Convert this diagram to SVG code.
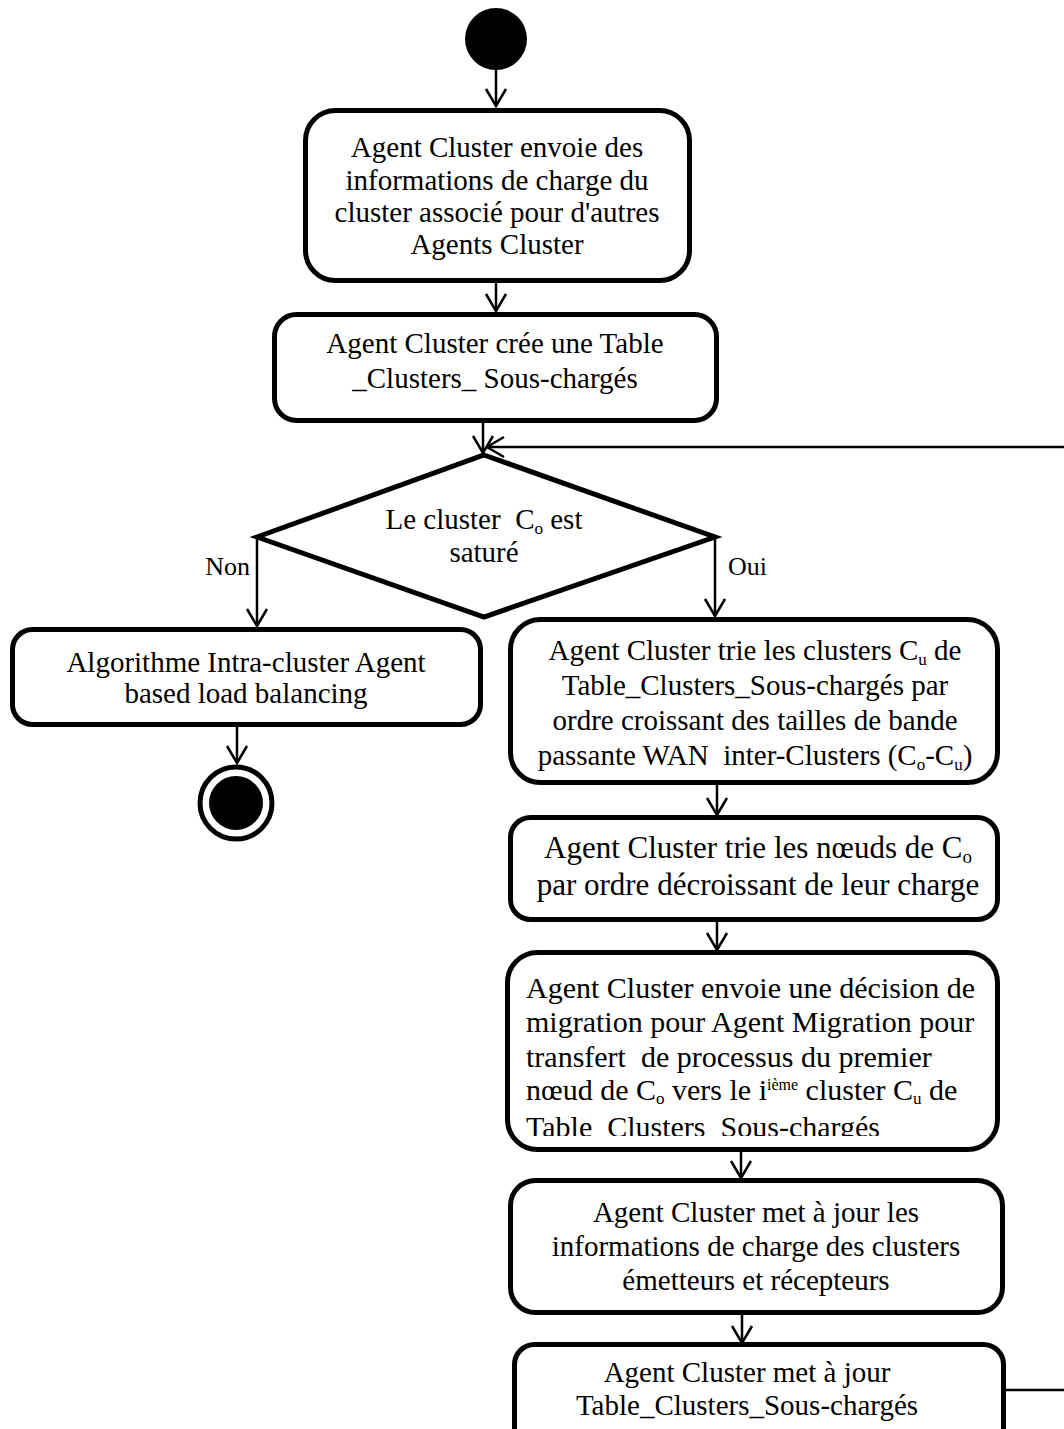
<svg xmlns="http://www.w3.org/2000/svg" width="1064" height="1429" viewBox="0 0 1064 1429">
<style>
  .box { fill: #fff; stroke: #000; stroke-width: 5; }
  .t { font-family: "Liberation Serif", "Times New Roman", serif; font-size: 29px; fill: #000; text-anchor: middle; white-space: pre; }
  .tl { text-anchor: start; }
  .big { font-size: 31px; }
  .mid { font-size: 30px; }
  .lbl { font-family: "Liberation Serif", "Times New Roman", serif; font-size: 26px; fill: #000; }
  .conn { fill: none; stroke: #000; stroke-width: 2.5; }
</style>
<defs>
  <marker id="arr" viewBox="0 0 20 24" refX="18" refY="12" markerWidth="20" markerHeight="24" markerUnits="userSpaceOnUse" orient="auto">
    <path d="M1,2 L18,12 L1,22" fill="none" stroke="#000" stroke-width="2.5"/>
  </marker>
  <clipPath id="clip5"><rect x="480" y="940" width="560" height="196"/></clipPath>
</defs>

<g id="connectors">
  <line class="conn" x1="496" y1="70" x2="496" y2="106" marker-end="url(#arr)"/>
  <line class="conn" x1="496" y1="283" x2="496" y2="311" marker-end="url(#arr)"/>
  <line class="conn" x1="483" y1="423" x2="483" y2="453" marker-end="url(#arr)"/>
  <line class="conn" x1="1064" y1="447" x2="487" y2="447" stroke-width="3" marker-end="url(#arr)"/>
  <line class="conn" x1="257" y1="538" x2="257" y2="626" marker-end="url(#arr)"/>
  <line class="conn" x1="715" y1="538" x2="715" y2="616" marker-end="url(#arr)"/>
  <line class="conn" x1="237" y1="727" x2="237" y2="763" marker-end="url(#arr)"/>
  <line class="conn" x1="717" y1="785" x2="717" y2="815" marker-end="url(#arr)"/>
  <line class="conn" x1="717" y1="922" x2="717" y2="950" marker-end="url(#arr)"/>
  <line class="conn" x1="741" y1="1152" x2="741" y2="1178" marker-end="url(#arr)"/>
  <line class="conn" x1="742" y1="1315" x2="742" y2="1343" marker-end="url(#arr)"/>
  <line class="conn" x1="1006" y1="1390" x2="1064" y2="1390"/>
  <text class="lbl" x="250" y="575" text-anchor="end">Non</text>
  <text class="lbl" x="728" y="575">Oui</text>
</g>

<g id="start">
  <circle cx="496" cy="39" r="31" fill="#000"/>
</g>

<g id="n1">
  <rect class="box" x="305.5" y="110.5" width="384" height="170" rx="30"/>
  <text class="t" x="497" y="157">Agent Cluster envoie des</text>
  <text class="t" x="497" y="190">informations de charge du</text>
  <text class="t" x="497" y="222">cluster associé pour d'autres</text>
  <text class="t" x="497" y="254">Agents Cluster</text>
</g>

<g id="n2">
  <rect class="box" x="274.5" y="314.5" width="442" height="106" rx="22"/>
  <text class="t" x="495" y="353">Agent Cluster crée une Table</text>
  <text class="t" x="495" y="388">_Clusters_ Sous-chargés</text>
</g>

<g id="decision">
  <polygon points="484,455 715,537 484,617 257,537" fill="#fff" stroke="#000" stroke-width="5" stroke-linejoin="miter"/>
  <text class="t" x="484" y="529" font-size="28">Le cluster  C<tspan font-size="17" dy="5">o</tspan><tspan dy="-5"> est</tspan></text>
  <text class="t" x="484" y="562" font-size="28">saturé</text>
</g>

<g id="intra">
  <rect class="box" x="12.5" y="629.5" width="468" height="95" rx="20"/>
  <text class="t" x="246" y="672">Algorithme Intra-cluster Agent</text>
  <text class="t" x="246" y="703">based load balancing</text>
</g>

<g id="end">
  <circle cx="236" cy="803" r="36" fill="#fff" stroke="#000" stroke-width="5"/>
  <circle cx="236" cy="803" r="27" fill="#000"/>
</g>

<g id="n3">
  <rect class="box" x="510.5" y="619.5" width="487" height="163" rx="30"/>
  <text class="t" x="755" y="660">Agent Cluster trie les clusters C<tspan font-size="17" dy="5">u</tspan><tspan dy="-5"> de</tspan></text>
  <text class="t" x="755" y="695">Table_Clusters_Sous-chargés par</text>
  <text class="t" x="755" y="730">ordre croissant des tailles de bande</text>
  <text class="t" x="755" y="765">passante WAN  inter-Clusters (C<tspan font-size="17" dy="5">o</tspan><tspan dy="-5">-C</tspan><tspan font-size="17" dy="5">u</tspan><tspan dy="-5">)</tspan></text>
</g>

<g id="n4">
  <rect class="box" x="510.5" y="817.5" width="487" height="102" rx="20"/>
  <text class="t big" x="758" y="858">Agent Cluster trie les nœuds de C<tspan font-size="19" dy="5">o</tspan></text>
  <text class="t big" x="758" y="895">par ordre décroissant de leur charge</text>
</g>

<g id="n5">
  <rect class="box" x="507.5" y="952.5" width="490" height="197" rx="30"/>
  <text class="t tl mid" x="526" y="998">Agent Cluster envoie une décision de</text>
  <text class="t tl mid" x="526" y="1032">migration pour Agent Migration pour</text>
  <text class="t tl mid" x="526" y="1067">transfert  de processus du premier</text>
  <text class="t tl mid" x="526" y="1100">nœud de C<tspan font-size="17" dy="4">o</tspan><tspan dy="-4"> vers le i</tspan><tspan font-size="16" dy="-10">ième</tspan><tspan dy="10"> cluster C</tspan><tspan font-size="17" dy="4">u</tspan><tspan dy="-4"> de</tspan></text>
  <text class="t tl mid" x="526" y="1137" clip-path="url(#clip5)">Table_Clusters_Sous-chargés</text>
</g>

<g id="n6">
  <rect class="box" x="510.5" y="1180.5" width="492" height="132" rx="25"/>
  <text class="t" x="756" y="1222">Agent Cluster met à jour les</text>
  <text class="t" x="756" y="1256">informations de charge des clusters</text>
  <text class="t" x="756" y="1290">émetteurs et récepteurs</text>
</g>

<g id="n7">
  <rect class="box" x="514.5" y="1344.5" width="489" height="130" rx="20"/>
  <text class="t" x="747" y="1382">Agent Cluster met à jour</text>
  <text class="t" x="747" y="1415">Table_Clusters_Sous-chargés</text>
</g>
</svg>
